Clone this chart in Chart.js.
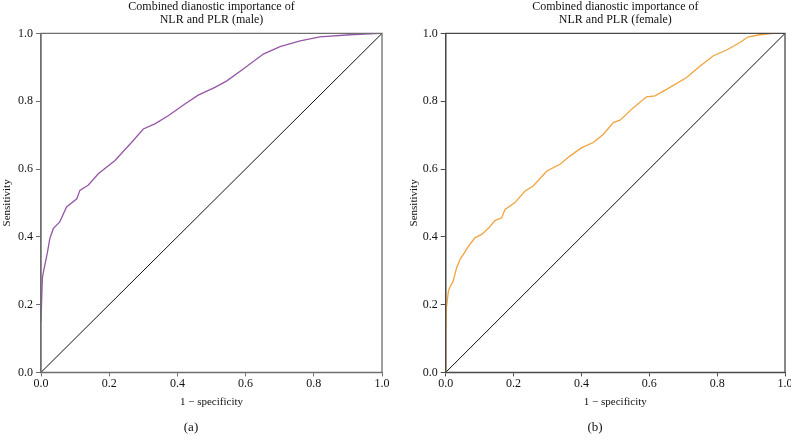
<!DOCTYPE html>
<html>
<head>
<meta charset="utf-8">
<script src="https://cdn.jsdelivr.net/npm/chart.js@4.4.1/dist/chart.umd.min.js"></script>
<style>
  html, body { margin: 0; padding: 0; background: #fff; overflow: hidden; width: 791px; height: 445px; }
  .box { position: absolute; top: 0; height: 445px; }
  #wa { left: 0; width: 395px; }
  #wb { left: 405px; width: 400px; }
</style>
</head>
<body>
<div class="box" id="wa"><canvas id="ca" width="395" height="445"></canvas></div>
<div class="box" id="wb"><canvas id="cb" width="400" height="445"></canvas></div>
<script>
// ---- data ----
const tickValues = [0, 0.2, 0.4, 0.6, 0.8, 1.0];
const diagonalX = [0, 1];
const diagonalY = [0, 1];

const maleFpr = [0, 0.004, 0.007, 0.019, 0.026, 0.036, 0.055, 0.075, 0.105, 0.114, 0.139, 0.168, 0.217, 0.266, 0.300, 0.334, 0.373, 0.422, 0.461, 0.510, 0.545, 0.593, 0.652, 0.701, 0.760, 0.818, 0.906, 0.994, 1.0];
const maleTpr = [0.15, 0.277, 0.296, 0.355, 0.395, 0.424, 0.444, 0.488, 0.512, 0.537, 0.553, 0.586, 0.625, 0.679, 0.718, 0.733, 0.757, 0.792, 0.818, 0.841, 0.860, 0.895, 0.939, 0.961, 0.978, 0.990, 0.996, 1.0, 1.0];

const femaleFpr = [0, 0, 0.002, 0.008, 0.011, 0.022, 0.032, 0.042, 0.052, 0.067, 0.086, 0.106, 0.126, 0.145, 0.165, 0.175, 0.204, 0.234, 0.258, 0.298, 0.337, 0.366, 0.401, 0.435, 0.464, 0.494, 0.514, 0.553, 0.592, 0.617, 0.651, 0.710, 0.750, 0.789, 0.828, 0.867, 0.892, 0.926, 0.966, 1.0];
const femaleTpr = [0, 0.10, 0.19, 0.239, 0.249, 0.269, 0.308, 0.333, 0.348, 0.372, 0.397, 0.407, 0.425, 0.448, 0.456, 0.481, 0.501, 0.535, 0.550, 0.594, 0.614, 0.638, 0.663, 0.678, 0.702, 0.737, 0.744, 0.781, 0.813, 0.816, 0.835, 0.870, 0.904, 0.934, 0.951, 0.973, 0.990, 0.996, 1.0, 1.0];

const titleA = ['Combined dianostic importance of', 'NLR and PLR (male)'];
const titleB = ['Combined dianostic importance of', 'NLR and PLR (female)'];
const xTitle = '1 \u2212 specificity';
const yTitle = 'Sensitivity';

function pts(xs, ys) { return xs.map((x, i) => ({ x: x, y: ys[i] })); }

const FONT = "'Liberation Serif', 'Times New Roman', serif";

function frameBox(color) {
  return {
    id: 'frameBox',
    afterDatasetsDraw(chart) {
      const a = chart.chartArea, ctx = chart.ctx;
      ctx.save();
      ctx.strokeStyle = color;
      ctx.lineWidth = 1.3;
      ctx.beginPath();
      ctx.moveTo(a.left, a.bottom);
      ctx.lineTo(a.left, a.top);
      ctx.lineTo(a.right, a.top);
      ctx.lineTo(a.right, a.bottom);
      ctx.lineTo(a.left, a.bottom);
      ctx.stroke();
      ctx.restore();
    }
  };
}

function makeChart(id, fpr, tpr, color, title, sub, yWidth, yTitlePad, padRight, axisColor) {
  return new Chart(document.getElementById(id), {
    type: 'scatter',
    data: {
      datasets: [
        { data: pts(fpr, tpr), showLine: true, borderColor: color, borderWidth: 1.3, pointRadius: 0, tension: 0, fill: false },
        { data: pts(diagonalX, diagonalY), showLine: true, borderColor: '#111', borderWidth: 1, pointRadius: 0, fill: false }
      ]
    },
    options: {
      responsive: false,
      animation: false,
      layout: { padding: { left: 0, right: padRight, top: 0, bottom: 0 } },
      plugins: {
        legend: { display: false },
        tooltip: { enabled: false },
        title: {
          display: true, text: title, fullSize: false, color: '#111',
          font: { family: FONT, size: 12, weight: 'normal', lineHeight: 1.1 },
          padding: { top: 0, bottom: 7 }
        },
        subtitle: {
          display: true, text: sub, position: 'bottom', color: '#111',
          font: { family: FONT, size: 13, weight: 'normal', lineHeight: 1.2 },
          padding: { top: 8, bottom: 10 }
        }
      },
      scales: {
        x: {
          type: 'linear', min: 0, max: 1,
          afterBuildTicks: (s) => { s.ticks = tickValues.map(v => ({ value: v })); },
          afterFit: (s) => { s.height = 39; },
          ticks: { color: '#111', font: { family: FONT, size: 12 }, padding: 0, maxRotation: 0, callback: (v) => Number(v).toFixed(1) },
          grid: { drawOnChartArea: false, drawTicks: true, tickLength: 4, color: axisColor },
          border: { display: true, color: axisColor, width: 1.3 },
          title: { display: true, text: xTitle, color: '#111', font: { family: FONT, size: 11 }, padding: { top: 0, bottom: 2.3 } }
        },
        y: {
          type: 'linear', min: 0, max: 1,
          afterBuildTicks: (s) => { s.ticks = tickValues.map(v => ({ value: v })); },
          afterFit: (s) => { s.width = yWidth; },
          ticks: { color: '#111', font: { family: FONT, size: 12 }, padding: 3, callback: (v) => Number(v).toFixed(1) },
          grid: { drawOnChartArea: false, drawTicks: true, tickLength: 5, color: axisColor },
          border: { display: true, color: axisColor, width: 1.3 },
          title: { display: true, text: yTitle, color: '#111', font: { family: FONT, size: 11 }, padding: { top: yTitlePad, bottom: 0 } }
        }
      }
    },
    plugins: [frameBox(axisColor)]
  });
}

makeChart('ca', maleFpr, maleTpr, '#9657a6', titleA, '(a)', 41, 1, 13, '#6e6e6e');
makeChart('cb', femaleFpr, femaleTpr, '#f2a33c', titleB, '(b)', 40.7, 2.4, 20, '#4a4a4a');
</script>
</body>
</html>
